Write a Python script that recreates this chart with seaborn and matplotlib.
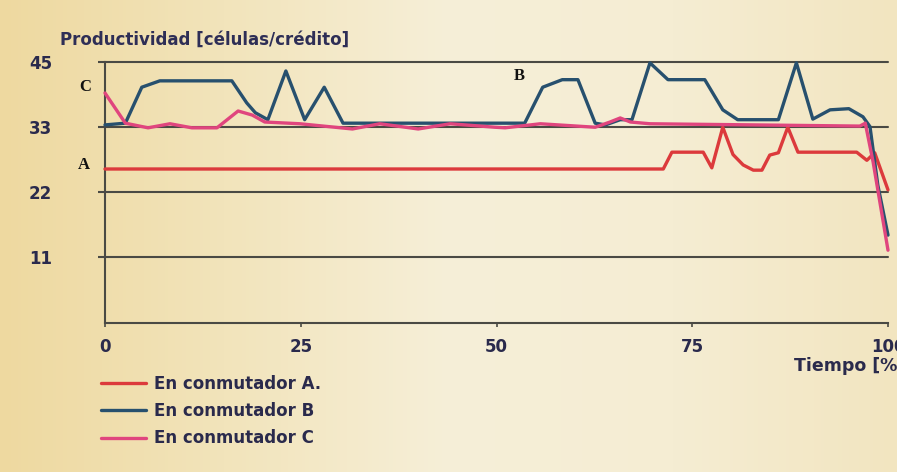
import numpy as np
import pandas as pd
import matplotlib
matplotlib.use("Agg")
import matplotlib.pyplot as plt
from matplotlib.lines import Line2D
from matplotlib.colors import LinearSegmentedColormap
import seaborn as sns

# Productividad por conmutador a lo largo del tiempo (%)
A_t = [0, 71.3, 72.4, 76.4, 77.5, 78.9, 80.2, 81.5, 82.8, 83.9, 84.9, 86.0,
       87.2, 88.5, 96.0, 97.3, 98.3, 100]
A_p = [26.5, 26.5, 29.4, 29.4, 26.7, 33.7, 29.0, 27.2, 26.3, 26.3, 28.9, 29.3,
       33.7, 29.4, 29.4, 28.0, 29.3, 22.9]

B_t = [0, 2.6, 4.7, 7.0, 16.2, 18.1, 19.2, 20.8, 23.1, 25.5, 28.0, 30.4, 53.6,
       55.9, 58.4, 60.4, 62.6, 63.9, 65.8, 67.3, 69.6, 71.9, 76.6, 78.9, 80.8,
       86.0, 88.3, 90.4, 92.6, 95.0, 96.8, 97.7, 98.7, 100]
B_p = [34.1, 34.4, 40.6, 41.7, 41.7, 37.9, 36.2, 35.0, 43.4, 35.0, 40.6, 34.4,
       34.4, 40.6, 41.9, 41.9, 34.4, 34.1, 35.0, 35.0, 44.8, 41.9, 41.9, 36.7,
       35.0, 35.0, 44.8, 35.1, 36.7, 36.9, 35.5, 33.8, 23.7, 15.1]

C_t = [0, 2.6, 5.5, 8.3, 11.1, 14.3, 17.0, 18.8, 20.4, 24.9, 31.6, 35.1, 40.0,
       44.1, 49.8, 51.1, 55.6, 62.6, 64.5, 65.8, 67.1, 69.6, 96.4, 97.1, 98.1, 100]
C_p = [39.6, 34.4, 33.6, 34.3, 33.6, 33.6, 36.5, 35.8, 34.6, 34.3, 33.4, 34.3,
       33.4, 34.3, 33.7, 33.6, 34.3, 33.7, 34.6, 35.3, 34.6, 34.3, 33.9, 34.4,
       27.7, 12.5]

series_names = ["En conmutador A.", "En conmutador B", "En conmutador C"]
series_colors = ["#dc3a3c", "#27506e", "#e0457e"]

y_ticks = [11.25, 22.5, 33.75, 45]
x_ticks = [0, 25, 50, 75, 100]

df = pd.concat([
    pd.DataFrame({"t": A_t, "p": A_p, "serie": series_names[0]}),
    pd.DataFrame({"t": B_t, "p": B_p, "serie": series_names[1]}),
    pd.DataFrame({"t": C_t, "p": C_p, "serie": series_names[2]}),
], ignore_index=True)

sns.set_theme(style="white")
plt.rcParams["font.family"] = ["DejaVu Sans"]

W, H = 897, 472
fig = plt.figure(figsize=(W / 100, H / 100), dpi=100)

# paper-like background
bg = fig.add_axes([0, 0, 1, 1], zorder=-10)
cmap = LinearSegmentedColormap.from_list(
    "paper", ["#eed9a0", "#f2e4bb", "#f6efd8", "#f5edd3", "#f2e5c0"])
grad = np.tile(np.linspace(0, 1, 256), (8, 1))
bg.imshow(grad, aspect="auto", cmap=cmap, extent=[0, 1, 0, 1])
bg.set_axis_off()

x0, x1 = 105, 888
y_top, y_bot = 61.7, 322.7
ax = fig.add_axes([x0 / W, 1 - y_bot / H, (x1 - x0) / W, (y_bot - y_top) / H])
ax.set_facecolor("none")

grid_c = "#4a4a44"
for y in y_ticks:
    ax.axhline(y, color=grid_c, lw=1.5, clip_on=False, zorder=1)

sns.lineplot(data=df, x="t", y="p", hue="serie", hue_order=series_names,
             palette=series_colors, sort=False, estimator=None,
             linewidth=2.4, ax=ax, legend=False, zorder=3)
for ln in ax.get_lines()[len(y_ticks):]:
    ln.set_clip_on(False)

ax.set_xlim(0, 100)
ax.set_ylim(0, 45)
ax.set_xlabel("")
ax.set_ylabel("")

for s in ["top", "right"]:
    ax.spines[s].set_visible(False)
for s in ["left", "bottom"]:
    ax.spines[s].set_color(grid_c)
    ax.spines[s].set_linewidth(1.5)

lab_c = "#2a2a4c"
fs = 12
ax.set_yticks(y_ticks)
ax.set_yticklabels([str(int(v)) for v in y_ticks])
ax.set_xticks(x_ticks)
ax.set_xticklabels([str(v) for v in x_ticks])
ax.tick_params(axis="y", left=True, length=5, width=1.5, color=grid_c,
               pad=33, labelsize=fs, labelcolor=lab_c)
ax.tick_params(axis="x", bottom=True, length=3, width=1.2, color=grid_c,
               pad=8, labelsize=fs, labelcolor=lab_c)
for lbl in ax.get_xticklabels() + ax.get_yticklabels():
    lbl.set_fontweight("bold")

fig.text(60 / W, 1 - 40 / H, "Productividad [células/crédito]", fontsize=fs,
         fontweight="bold", color="#2e2e56", ha="left", va="center")
fig.text(794 / W, 1 - 366 / H, "Tiempo [%]", fontsize=12.5,
         fontweight="bold", color=lab_c, ha="left", va="center")

for txt, px, py in [("C", 85, 87), ("A", 84, 165), ("B", 519, 76)]:
    fig.text(px / W, 1 - py / H, txt, fontsize=12, fontweight="bold",
             family="Liberation Serif", color="#111111",
             ha="center", va="center")

handles = [Line2D([], [], color=c, lw=2.4) for c in series_colors]
leg = fig.legend(handles, series_names, loc="upper left",
                 bbox_to_anchor=(101 / W, 1 - 375 / H), frameon=False,
                 handlelength=2.7, handletextpad=0.45, labelspacing=0.55,
                 borderpad=0, borderaxespad=0,
                 prop={"weight": "bold", "size": fs})
for t in leg.get_texts():
    t.set_color(lab_c)

fig.savefig("out.png", dpi=100)
